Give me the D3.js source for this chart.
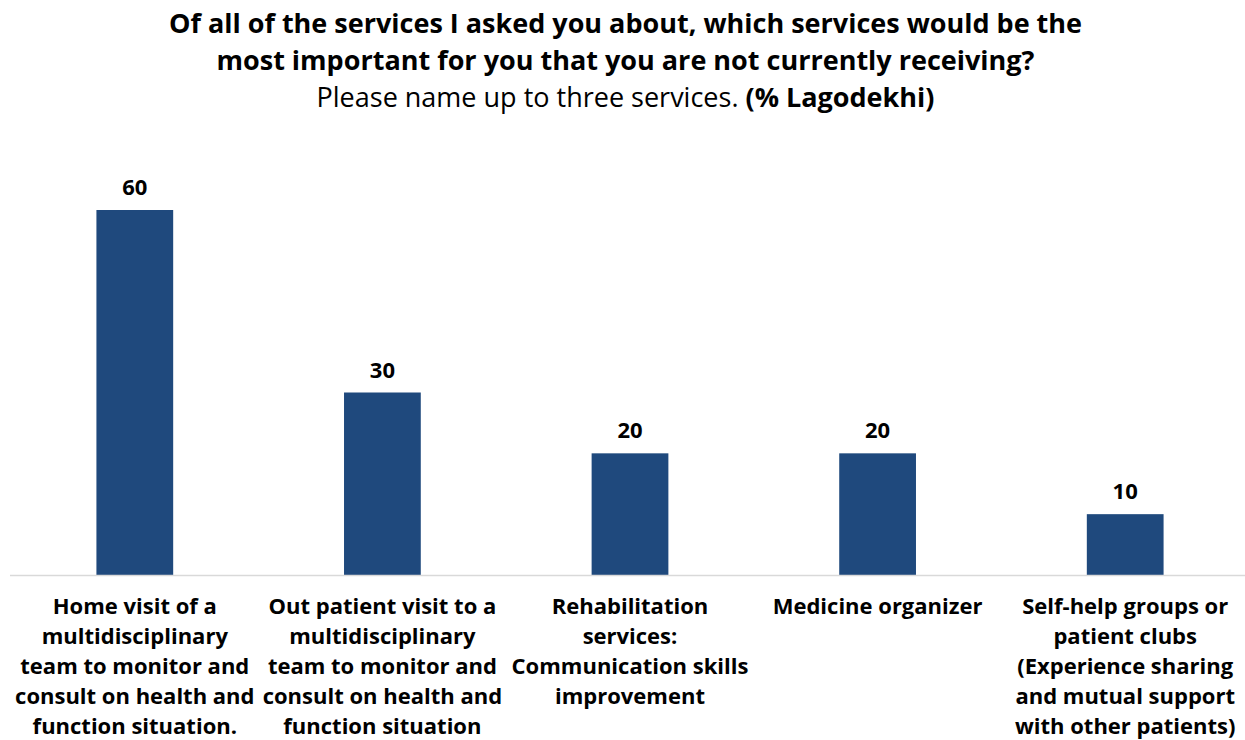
<!DOCTYPE html>
<html>
<head>
<meta charset="utf-8">
<script src="https://cdn.jsdelivr.net/npm/d3@7"></script>
<style>
  html, body { margin: 0; padding: 0; background: #fff; }
  svg { display: block; font-family: "Open Sans", sans-serif; }
</style>
</head>
<body>
<svg id="chart" width="1245" height="740"></svg>
<script>
// Services named as most important but not currently received (% Lagodekhi)
const categories = [
  ["Home visit of a", "multidisciplinary", "team to monitor and", "consult on health and", "function situation."],
  ["Out patient visit to a", "multidisciplinary", "team to monitor and", "consult on health and", "function situation"],
  ["Rehabilitation", "services:", "Communication skills", "improvement"],
  ["Medicine organizer"],
  ["Self-help groups or", "patient clubs", "(Experience sharing", "and mutual support", "with other patients)"]
];
const values = [60, 30, 20, 20, 10];
const titleLines = [
  "Of all of the services I asked you about, which services would be the",
  "most important for you that you are not currently receiving?"
];
const subtitleNormal = "Please name up to three services. ";
const subtitleBold = "(% Lagodekhi)";

const svg = d3.select("#chart");
const W = 1245;
const baseY = 575;

const x = d3.scaleBand()
  .domain(d3.range(values.length))
  .range([11, 1249])
  .paddingInner(0.69)
  .paddingOuter(0.345);

const y = d3.scaleLinear()
  .domain([0, 60])
  .range([baseY, 210]);

// Title
svg.append("g").selectAll("text")
  .data(titleLines)
  .join("text")
  .attr("x", W / 2 + 3)
  .attr("y", (d, i) => 33 + i * 37)
  .attr("text-anchor", "middle")
  .attr("font-size", 27)
  .attr("font-weight", 700)
  .attr("fill", "#000")
  .text(d => d);

const sub = svg.append("text")
  .attr("x", W / 2 + 3)
  .attr("y", 107)
  .attr("text-anchor", "middle")
  .attr("font-size", 27)
  .attr("fill", "#000");
sub.append("tspan").text(subtitleNormal);
sub.append("tspan").attr("font-weight", 700).text(subtitleBold);

// Bars
svg.append("g").selectAll("rect")
  .data(values)
  .join("rect")
  .attr("x", (d, i) => x(i))
  .attr("width", x.bandwidth())
  .attr("y", d => y(d))
  .attr("height", d => y(0) - y(d))
  .attr("fill", "#1F497D");

// Value labels
svg.append("g").selectAll("text")
  .data(values)
  .join("text")
  .attr("x", (d, i) => x(i) + x.bandwidth() / 2)
  .attr("y", d => y(d) - 15)
  .attr("text-anchor", "middle")
  .attr("font-size", 22)
  .attr("font-weight", 700)
  .attr("fill", "#000")
  .text(d => d);

// Baseline
svg.append("line")
  .attr("x1", 10).attr("x2", 1245)
  .attr("y1", baseY + 0.5).attr("y2", baseY + 0.5)
  .attr("stroke", "#d9d9d9")
  .attr("stroke-width", 1.5);

// Category labels
const cat = svg.append("g").selectAll("text")
  .data(categories)
  .join("text")
  .attr("text-anchor", "middle")
  .attr("font-size", 22)
  .attr("font-weight", 700)
  .attr("fill", "#000");
cat.each(function (lines, i) {
  d3.select(this).selectAll("tspan")
    .data(lines)
    .join("tspan")
    .attr("x", x(i) + x.bandwidth() / 2)
    .attr("y", (d, j) => 614 + j * 30)
    .text(d => d);
});
</script>
</body>
</html>
